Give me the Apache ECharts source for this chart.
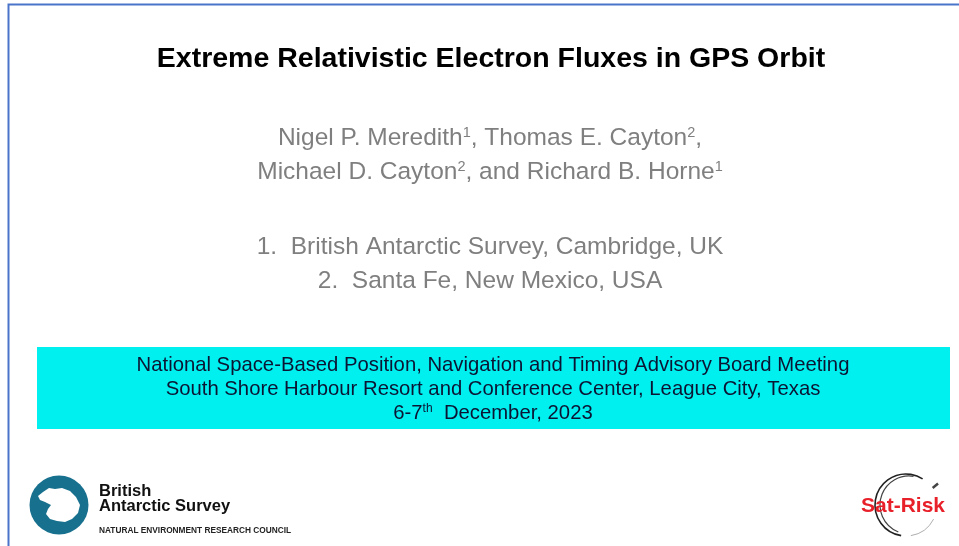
<!DOCTYPE html>
<html>
<head>
<meta charset="utf-8">
<script src="https://cdn.jsdelivr.net/npm/echarts@6/dist/echarts.min.js"></script>
<style>
html,body{margin:0;padding:0;background:#fff;}
#main{width:959px;height:546px;}
</style>
</head>
<body>
<div id="main"></div>
<script>
// ---- Content (text of the slide) ----
var titleText = 'Extreme Relativistic Electron Fluxes in GPS Orbit';
var authorLine1 = [['Nigel P. Meredith', '1'], [', Thomas E. Cayton', '2'], [',', '']];
var authorLine2 = [['Michael D. Cayton', '2'], [', and Richard B. Horne', '1']];
var affiliationLines = ['1.  British Antarctic Survey, Cambridge, UK', '2.  Santa Fe, New Mexico, USA'];
var meetingLines = ['National Space-Based Position, Navigation and Timing Advisory Board Meeting',
                    'South Shore Harbour Resort and Conference Center, League City, Texas'];
var meetingDate = [['6-7', 'th'], ['  December, 2023', '']];
var basLogoLines = ['British', 'Antarctic Survey', 'NATURAL ENVIRONMENT RESEARCH COUNCIL'];
var satRiskLabel = 'Sat-Risk';

function richLine(parts) {
  return parts.map(function (p) {
    return '{n|' + p[0] + '}' + (p[1] ? '{s|' + p[1] + '}' : '');
  }).join('');
}

var FONT = '"Liberation Sans", Arial, sans-serif';
var GREY = '#7f7f7f';
var NAVY = '#0b1533';
var chart = echarts.init(document.getElementById('main'), null, {renderer: 'canvas'});

var elements = [];
// background
elements.push({type: 'rect', shape: {x: 0, y: 0, width: 959, height: 546}, style: {fill: '#ffffff'}, silent: true});
// blue frame
elements.push({type: 'polyline', shape: {points: [[8.5, 546], [8.5, 4.5], [959, 4.5]]},
  style: {stroke: '#4a74c9', lineWidth: 2, fill: null}});

// title
elements.push({type: 'text', x: 491, y: 59, style: {
  text: titleText, font: 'bold 28.5px ' + FONT, fill: '#000000', align: 'center', verticalAlign: 'middle'}});

// authors
var authorRich = {
  n: {fontFamily: FONT, fontSize: 24.5, fill: GREY},
  s: {fontFamily: FONT, fontSize: 14.5, fill: GREY, verticalAlign: 'top', padding: [0, 0, 10, 0]}
};
[authorLine1, authorLine2].forEach(function (line, i) {
  elements.push({type: 'text', x: 490, y: 138 + i * 34, style: {
    text: richLine(line), rich: authorRich, fill: GREY, align: 'center', verticalAlign: 'middle'}});
});

// affiliations
affiliationLines.forEach(function (line, i) {
  elements.push({type: 'text', x: 490, y: 247 + i * 34, style: {
    text: line, font: '24.5px ' + FONT, fill: GREY, align: 'center', verticalAlign: 'middle'}});
});

// cyan meeting box
elements.push({type: 'rect', shape: {x: 37, y: 347, width: 913, height: 82}, style: {fill: '#00efef'}});
meetingLines.forEach(function (line, i) {
  elements.push({type: 'text', x: 493, y: 365 + i * 24, style: {
    text: line, font: '20.3px ' + FONT, fill: NAVY, align: 'center', verticalAlign: 'middle'}});
});
elements.push({type: 'text', x: 493, y: 413, style: {
  text: richLine(meetingDate),
  rich: {
    n: {fontFamily: FONT, fontSize: 20.3, fill: NAVY},
    s: {fontFamily: FONT, fontSize: 12, fill: NAVY, verticalAlign: 'top', padding: [0, 0, 9, 0]}
  },
  fill: NAVY, align: 'center', verticalAlign: 'middle'}});

// BAS logo
elements.push({type: 'circle', shape: {cx: 59, cy: 505, r: 29.5}, style: {fill: '#17708e'}});
elements.push({type: 'polygon', shape: {points: [
  [38, 496], [43, 492], [49, 488], [55, 489], [62, 488], [70, 491], [76, 497], [80, 505],
  [78, 513], [72, 519], [65, 522], [57, 521], [50, 519], [46, 514], [48, 509], [51, 505], [45, 502], [40, 500]
]}, style: {fill: '#ffffff', lineJoin: 'round'}});
elements.push({type: 'text', x: 99, y: 491, style: {text: basLogoLines[0], font: 'bold 16.5px ' + FONT, fill: '#111111', verticalAlign: 'middle'}});
elements.push({type: 'text', x: 99, y: 506.5, style: {text: basLogoLines[1], font: 'bold 16.5px ' + FONT, fill: '#111111', verticalAlign: 'middle'}});
elements.push({type: 'text', x: 99, y: 531, style: {text: basLogoLines[2], font: 'bold 8.3px ' + FONT, fill: '#222222', verticalAlign: 'middle'}});

// Sat-Risk logo
elements.push({type: 'arc', shape: {cx: 906, cy: 505, r: 31, startAngle: Math.PI * 0.55, endAngle: Math.PI * 1.68, clockwise: true},
  style: {stroke: '#222222', lineWidth: 1.6, fill: null}});
elements.push({type: 'arc', shape: {cx: 909, cy: 505, r: 29, startAngle: Math.PI * 0.62, endAngle: Math.PI * 1.55, clockwise: true},
  style: {stroke: '#444444', lineWidth: 1.2, fill: null}});
elements.push({type: 'arc', shape: {cx: 906, cy: 505, r: 31, startAngle: Math.PI * 0.15, endAngle: Math.PI * 0.45, clockwise: true},
  style: {stroke: '#999999', lineWidth: 0.8, fill: null}});
elements.push({type: 'rect', shape: {x: 932, y: 484.5, width: 7, height: 2.5}, rotation: 0.7, originX: 935.5, originY: 486, style: {fill: '#444444'}});
elements.push({type: 'text', x: 903, y: 506, style: {text: satRiskLabel, font: 'bold 21px ' + FONT, fill: '#e8202a', align: 'center', verticalAlign: 'middle'}});

chart.setOption({animation: false, graphic: {elements: elements}});
</script>
</body>
</html>
